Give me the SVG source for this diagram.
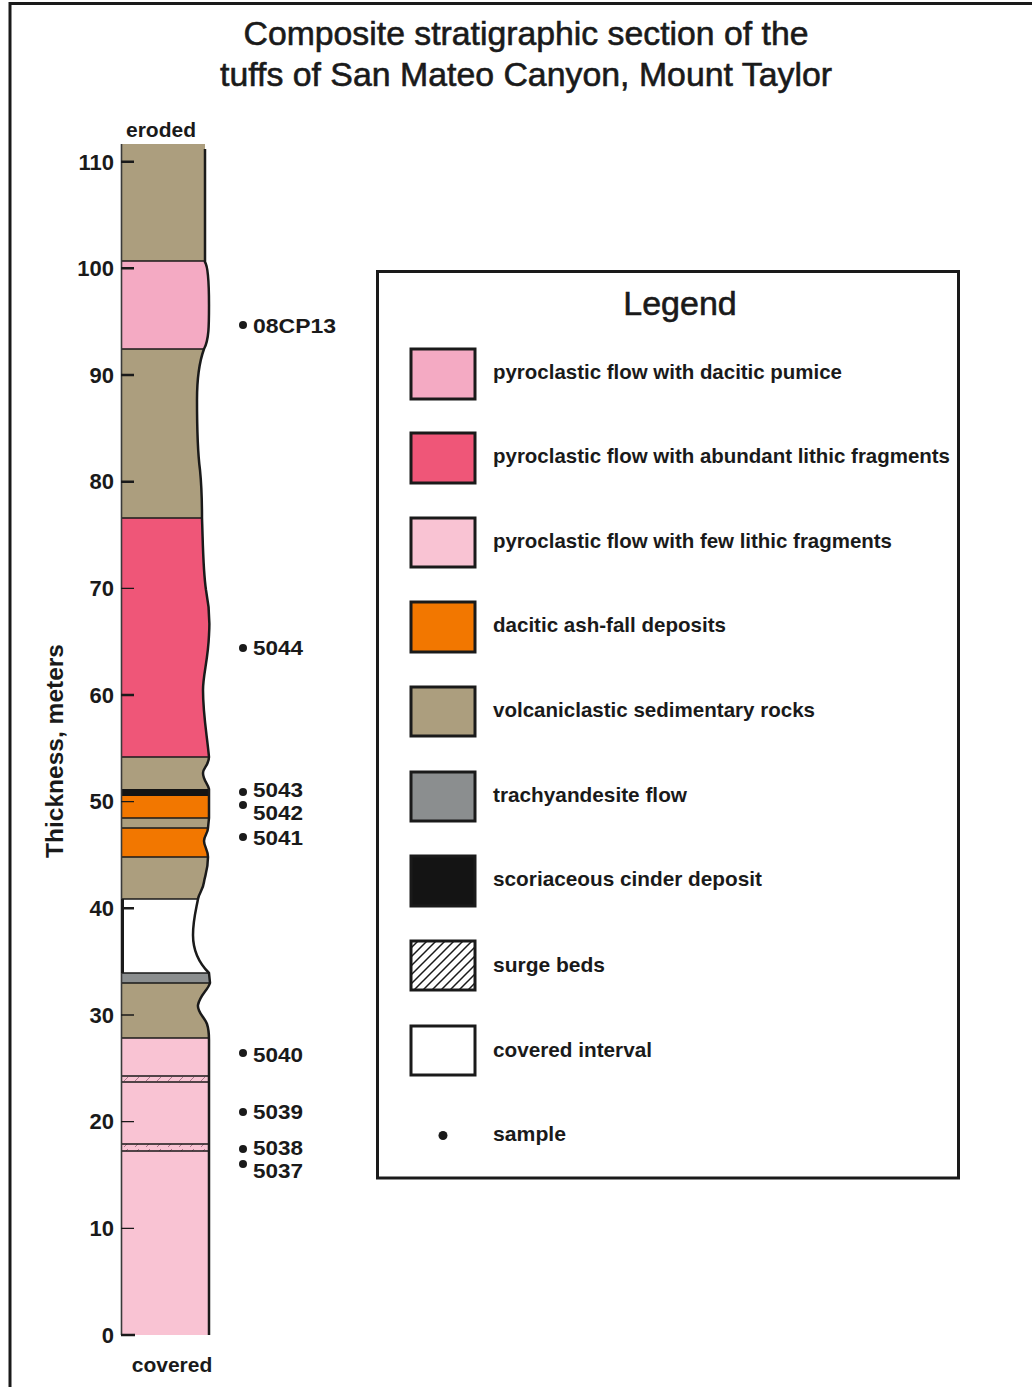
<svg xmlns="http://www.w3.org/2000/svg" width="1032" height="1387" viewBox="0 0 1032 1387">
<style>
.tx{font-family:"Liberation Sans",Arial,Helvetica,sans-serif;fill:#1a1a1a}
.ttl{font-size:34px;text-anchor:middle;stroke:#1a1a1a;stroke-width:0.6}
.b{font-weight:bold}
.lab{font-size:21px}
.num{font-size:22px;text-anchor:end}
.smp{font-size:20px}
.bnd{stroke:#1a1a1a;stroke-width:1.6;fill:none}
.tick{stroke:#1a1a1a}
.sw{stroke:#1a1a1a;stroke-width:3}
</style>
<defs>
<clipPath id="colClip">
<path d="M121 144 H205 L205 262 C209 268 209 290 209 305 C209 325 209 340 204 349 C200 360 197 375 197 400 C197 430 198 455 200 470 C202 490 202 505 202 518 C203 545 203 570 206 590 C209 605 210 620 209 635 C208 660 203 675 203 690 C203 715 207 735 209 757 C209 765 203 768 203 773 C203 780 208 784 209 789 L209 818 L208 828 C208 833 204 836 204 841 C204 846 208 850 208 857 C208 870 205 875 204 882 C203 890 199 893 198 899 C196 910 193 920 193 935 C193 950 198 962 209 973 L210 983 C208 990 200 995 198 1005 C197 1012 205 1018 207 1024 C209 1030 209 1035 209 1040 L209 1335 L121 1335 Z"/>
</clipPath>
<pattern id="hatch" patternUnits="userSpaceOnUse" width="9" height="9">
<path d="M-1 1 L1 -1 M0 9 L9 0 M8 10 L10 8" stroke="#1a1a1a" stroke-width="1.5"/>
</pattern>
<pattern id="hatchCol" patternUnits="userSpaceOnUse" x="0" y="1076" width="11" height="6">
<path d="M3 5 L7 1" stroke="#a8788a" stroke-width="1"/>
</pattern>
</defs>

<rect width="1032" height="1387" fill="#ffffff"/>
<g id="frame"><path d="M10 1387 V3.5 H1032" fill="none" stroke="#1a1a1a" stroke-width="3"/></g>

<g id="title" class="tx ttl">
<text x="526" y="45" textLength="565" lengthAdjust="spacingAndGlyphs">Composite stratigraphic section of the</text>
<text x="526" y="86" textLength="612" lengthAdjust="spacingAndGlyphs">tuffs of San Mateo Canyon, Mount Taylor</text>
</g>

<g id="column">
<g clip-path="url(#colClip)">
<rect x="118" y="144" width="100" height="118" fill="#AC9E7E"/>
<rect x="118" y="261" width="100" height="88" fill="#F4AAC3"/>
<rect x="118" y="349" width="100" height="169" fill="#AC9E7E"/>
<rect x="118" y="518" width="100" height="239" fill="#EF5678"/>
<rect x="118" y="757" width="100" height="32" fill="#AC9E7E"/>
<rect x="118" y="789" width="100" height="7" fill="#141414"/>
<rect x="118" y="796" width="100" height="22" fill="#F27700"/>
<rect x="118" y="818" width="100" height="10" fill="#AC9E7E"/>
<rect x="118" y="828" width="100" height="29" fill="#F27700"/>
<rect x="118" y="857" width="100" height="42" fill="#AC9E7E"/>
<rect x="118" y="899" width="100" height="74" fill="#ffffff"/>
<rect x="118" y="973" width="100" height="10" fill="#8B8E8F"/>
<rect x="118" y="983" width="100" height="55" fill="#AC9E7E"/>
<rect x="118" y="1038" width="100" height="297" fill="#F9C3D3"/>
<rect x="118" y="1076" width="100" height="6" fill="url(#hatchCol)"/>
<rect x="118" y="1144" width="100" height="7" fill="url(#hatchCol)"/>
<path class="bnd" d="M118 261H220 M118 349H220 M118 518H220 M118 757H220 M118 818H220 M118 828H220 M118 857H220 M118 899H220 M118 973H220 M118 983H220 M118 1038H220 M118 1076H220 M118 1082H220 M118 1144H220 M118 1151H220"/>
</g>
<path d="M121.5 144 V1335" stroke="#3a3a3a" stroke-width="1.6" fill="none"/>
<path d="M122.5 899 V973" stroke="#1a1a1a" stroke-width="3" fill="none"/>
<path d="M205 149 L205 262 C209 268 209 290 209 305 C209 325 209 340 204 349 C200 360 197 375 197 400 C197 430 198 455 200 470 C202 490 202 505 202 518 C203 545 203 570 206 590 C209 605 210 620 209 635 C208 660 203 675 203 690 C203 715 207 735 209 757 C209 765 203 768 203 773 C203 780 208 784 209 789 L209 818 L208 828 C208 833 204 836 204 841 C204 846 208 850 208 857 C208 870 205 875 204 882 C203 890 199 893 198 899 C196 910 193 920 193 935 C193 950 198 962 209 973 L210 983 C208 990 200 995 198 1005 C197 1012 205 1018 207 1024 C209 1030 209 1035 209 1040 L209 1335" fill="none" stroke="#1a1a1a" stroke-width="2.5"/>
</g>

<g id="axis">
<g class="tick" stroke-width="2.5">
<path d="M121 161.7H134 M121 268.3H134 M121 375H134 M121 481.7H134 M121 695H134 M121 908.3H134 M121 1335H135"/>
</g>
<g class="tick" stroke-width="1.3">
<path d="M121 588.3H134 M121 801.7H134 M121 1015H134 M121 1121.7H134 M121 1228.3H134"/>
</g>
<g class="tx b num">
<text x="114" y="170">110</text>
<text x="114" y="276">100</text>
<text x="114" y="383">90</text>
<text x="114" y="489">80</text>
<text x="114" y="596">70</text>
<text x="114" y="703">60</text>
<text x="114" y="809">50</text>
<text x="114" y="916">40</text>
<text x="114" y="1023">30</text>
<text x="114" y="1129">20</text>
<text x="114" y="1236">10</text>
<text x="114" y="1343">0</text>
</g>
<text class="tx b" font-size="24" text-anchor="middle" transform="translate(63 751) rotate(-90)" textLength="214" lengthAdjust="spacingAndGlyphs">Thickness, meters</text>
<text class="tx b" font-size="21" x="161" y="137" text-anchor="middle">eroded</text>
<text class="tx b" font-size="21" x="172" y="1372" text-anchor="middle">covered</text>
</g>

<g id="samples">
<g fill="#1a1a1a">
<circle cx="243" cy="325" r="4"/>
<circle cx="243" cy="648" r="4"/>
<circle cx="243" cy="792" r="4"/>
<circle cx="243" cy="805" r="4"/>
<circle cx="243" cy="837" r="4"/>
<circle cx="243" cy="1053" r="4"/>
<circle cx="243" cy="1112" r="4"/>
<circle cx="243" cy="1149" r="4"/>
<circle cx="243" cy="1164" r="4"/>
</g>
<g class="tx b smp">
<text x="253" y="333" textLength="83" lengthAdjust="spacingAndGlyphs">08CP13</text>
<text x="253" y="655" textLength="50" lengthAdjust="spacingAndGlyphs">5044</text>
<text x="253" y="797" textLength="50" lengthAdjust="spacingAndGlyphs">5043</text>
<text x="253" y="820" textLength="50" lengthAdjust="spacingAndGlyphs">5042</text>
<text x="253" y="845" textLength="50" lengthAdjust="spacingAndGlyphs">5041</text>
<text x="253" y="1062" textLength="50" lengthAdjust="spacingAndGlyphs">5040</text>
<text x="253" y="1119" textLength="50" lengthAdjust="spacingAndGlyphs">5039</text>
<text x="253" y="1155" textLength="50" lengthAdjust="spacingAndGlyphs">5038</text>
<text x="253" y="1178" textLength="50" lengthAdjust="spacingAndGlyphs">5037</text>
</g>
</g>

<g id="legend">
<rect x="377.5" y="271.5" width="581" height="906.5" fill="#ffffff" stroke="#1a1a1a" stroke-width="3"/>
<text class="tx" font-size="34" x="680" y="315" text-anchor="middle" stroke="#1a1a1a" stroke-width="0.6">Legend</text>
<g id="leg-pumice"><rect class="sw" x="411" y="349" width="64" height="50" fill="#F4AAC3"/><text class="tx b lab" x="493" y="379" textLength="349" lengthAdjust="spacingAndGlyphs">pyroclastic flow with dacitic pumice</text></g>
<g id="leg-lithic"><rect class="sw" x="411" y="433" width="64" height="50" fill="#EF5678"/><text class="tx b lab" x="493" y="463" textLength="457" lengthAdjust="spacingAndGlyphs">pyroclastic flow with abundant lithic fragments</text></g>
<g id="leg-few"><rect class="sw" x="411" y="518" width="64" height="49" fill="#F9C3D3"/><text class="tx b lab" x="493" y="548" textLength="399" lengthAdjust="spacingAndGlyphs">pyroclastic flow with few lithic fragments</text></g>
<g id="leg-ash"><rect class="sw" x="411" y="602" width="64" height="50" fill="#F27700"/><text class="tx b lab" x="493" y="632" textLength="233" lengthAdjust="spacingAndGlyphs">dacitic ash-fall deposits</text></g>
<g id="leg-sed"><rect class="sw" x="411" y="687" width="64" height="49" fill="#AC9E7E"/><text class="tx b lab" x="493" y="717" textLength="322" lengthAdjust="spacingAndGlyphs">volcaniclastic sedimentary rocks</text></g>
<g id="leg-trachy"><rect class="sw" x="411" y="772" width="64" height="49" fill="#8B8E8F"/><text class="tx b lab" x="493" y="802" textLength="194" lengthAdjust="spacingAndGlyphs">trachyandesite flow</text></g>
<g id="leg-cinder"><rect class="sw" x="411" y="856" width="64" height="50" fill="#141414"/><text class="tx b lab" x="493" y="886" textLength="269" lengthAdjust="spacingAndGlyphs">scoriaceous cinder deposit</text></g>
<g id="leg-surge"><rect x="411" y="941" width="64" height="49" fill="url(#hatch)"/><rect class="sw" x="411" y="941" width="64" height="49" fill="none"/><text class="tx b lab" x="493" y="972" textLength="112" lengthAdjust="spacingAndGlyphs">surge beds</text></g>
<g id="leg-covered"><rect class="sw" x="411" y="1026" width="64" height="49" fill="#ffffff"/><text class="tx b lab" x="493" y="1057" textLength="159" lengthAdjust="spacingAndGlyphs">covered interval</text></g>
<g id="leg-sample"><circle cx="443" cy="1135.5" r="4.5" fill="#1a1a1a"/><text class="tx b lab" x="493" y="1141" textLength="73" lengthAdjust="spacingAndGlyphs">sample</text></g>
</g>
</svg>
